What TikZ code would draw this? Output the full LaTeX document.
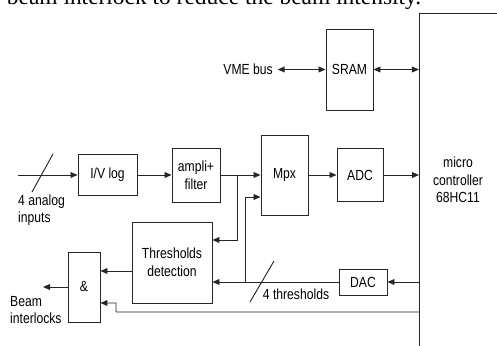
\documentclass[tikz,border=0pt]{standalone}
\usepackage{fontspec}
\setmainfont{Liberation Sans}[FakeStretch=0.83]
\newfontfamily\capfont{Liberation Serif}
\usetikzlibrary{arrows.meta,positioning}

\begin{document}
\begin{tikzpicture}[
    font=\fontsize{12.5}{15}\selectfont,
    block/.style={draw=black!85, line width=0.8pt, align=center, inner sep=1pt},
    wire/.style={draw=black!85, line width=0.8pt},
    arr/.style={wire, -{Triangle[length=6pt,width=5pt]}},
    darr/.style={wire, {Triangle[length=6pt,width=5pt]}-{Triangle[length=6pt,width=5pt]}},
    txt/.style={align=left, inner sep=0pt}
]
\useasboundingbox (0,0) rectangle (14.91,10.35);
\clip (0,0) rectangle (14.91,10.35);
\node[font=\capfont\fontsize{20}{24}\selectfont, anchor=base west, inner sep=0pt] (cap) at (0.2,10.23) {beam interlock to reduce the beam intensity.};
\node[block, minimum width=3cm, minimum height=11cm, anchor=north west] (mcu) at (12.57,9.96) {};
\node[align=center] (mcutxt) at (13.74,4.95) {micro\\controller\\68HC11};
\node[block, minimum width=1.41cm, minimum height=2.43cm] (sram) at (10.485,8.265) {SRAM};
\node[anchor=east, inner sep=4pt] (vme) at (8.33,8.265) {VME bus};
\node[block, minimum width=1.77cm, minimum height=1.23cm] (iv) at (3.225,5.1) {I/V log};
\node[block, minimum width=1.44cm, minimum height=1.62cm] (amp) at (5.88,5.1) {ampli+\\filter};
\node[block, minimum width=1.41cm, minimum height=2.4cm] (mpx) at (8.535,5.1) {Mpx};
\node[block, minimum width=1.38cm, minimum height=1.59cm] (adc) at (10.8,5.1) {ADC};
\node[block, minimum width=2.4cm, minimum height=2.43cm] (thr) at (5.16,2.475) {Thresholds\\detection};
\node[block, minimum width=0.96cm, minimum height=2.1cm] (and) at (2.52,1.74) {\&};
\node[block, minimum width=1.44cm, minimum height=0.78cm] (dac) at (10.89,1.89) {DAC};
\node[txt, anchor=west] (ain) at (0.54,4.05) {4 analog\\inputs};
\node[txt, anchor=west] (beam) at (0.3,1.05) {Beam\\interlocks};
\node[txt] (nthr) at (8.88,1.53) {4 thresholds};
% branch points and free ends
\coordinate (in) at (0.54,5.1);
\coordinate (out) at (1.29,1.74);
\coordinate (b1) at (7.11,5.1);
\coordinate (t1) at (7.11,3.15);
\coordinate (b2) at (7.35,1.89);
\coordinate (m2) at (7.35,4.44);
\coordinate (fb) at (3.48,0.99);
% signal chain
\draw[arr] (in) -- (iv);
\draw[arr] (iv) -- (amp);
\draw[arr] (amp) -- (mpx);
\draw[arr] (mpx) -- (adc);
\draw[arr] (adc) -- (adc -| mcu.west);
\draw[darr] (vme) -- (sram);
\draw[darr] (sram) -- (sram -| mcu.west);
\draw[arr] (b1) -- (t1) -- (t1 -| thr.east);
\draw[arr] (mcu.west |- dac) -- (dac);
\draw[arr] (dac.west) -- (dac.west -| thr.east);
\draw[arr] (b2) -- (m2) -- (m2 -| mpx.west);
\draw[arr] (thr.west |- 0,2.22) -- (and.east |- 0,2.22);
\draw[arr] (and) -- (out);
\draw[arr] (mcu.west |- fb) -- (fb) -- ++(0,0.27) -- (and.east |- 0,1.26);
% bus slashes
\draw[wire] (0.96,4.59) -- (1.59,5.73);
\draw[wire] (7.5,1.29) -- (8.22,2.52);
\end{tikzpicture}
\end{document}
